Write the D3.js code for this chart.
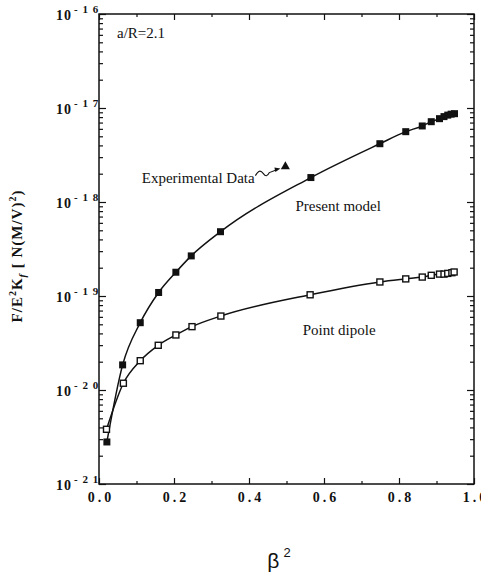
<!DOCTYPE html>
<html>
<head>
<meta charset="utf-8">
<script src="https://cdn.jsdelivr.net/npm/d3@7"></script>
<style>
  body { margin: 0; background: #fff; }
  svg { display: block; }
  text { fill: #111; }
  .serif { font-family: 'Liberation Serif', 'Times New Roman', 'DejaVu Serif', serif; }
  .sans { font-family: 'Liberation Sans', Arial, sans-serif; }
</style>
</head>
<body>
<div id="app"></div>
<script>
// beta^2 values and F/E^2K_f values
const presentX = [0.021, 0.063, 0.110, 0.159, 0.205, 0.246, 0.324, 0.565, 0.749, 0.818, 0.862, 0.886, 0.908, 0.920, 0.930, 0.939, 0.948];
const presentY = [2.8e-21, 1.85e-20, 5.2e-20, 1.09e-19, 1.79e-19, 2.67e-19, 4.83e-19, 1.82e-18, 4.17e-18, 5.6e-18, 6.44e-18, 7.15e-18, 7.7e-18, 8.1e-18, 8.4e-18, 8.6e-18, 8.7e-18];

const dipoleX = [0.020, 0.065, 0.110, 0.158, 0.205, 0.248, 0.325, 0.563, 0.749, 0.818, 0.862, 0.886, 0.908, 0.920, 0.930, 0.941, 0.947];
const dipoleY = [3.82e-21, 1.18e-20, 2.05e-20, 2.99e-20, 3.85e-20, 4.72e-20, 6.12e-20, 1.03e-19, 1.41e-19, 1.52e-19, 1.59e-19, 1.66e-19, 1.71e-19, 1.71e-19, 1.74e-19, 1.77e-19, 1.8e-19];

const experimentX = [0.497];
const experimentY = [2.38e-18];

const xTicks = [0, 0.2, 0.4, 0.6, 0.8, 1.0];
const yExponents = [-16, -17, -18, -19, -20, -21];

const width = 481, height = 574;
const margin = { left: 99, right: 7, top: 14, bottom: 90 };

const svg = d3.select('#app').append('svg')
  .attr('width', width)
  .attr('height', height);

const x = d3.scaleLinear().domain([0, 1]).range([margin.left, width - margin.right]);
const y = d3.scaleLog().domain([1e-21, 1e-16]).range([height - margin.bottom, margin.top]);

// frame
svg.append('rect')
  .attr('x', x(0)).attr('y', y(1e-16))
  .attr('width', x(1) - x(0)).attr('height', y(1e-21) - y(1e-16))
  .attr('fill', 'none').attr('stroke', '#111').attr('stroke-width', 1.5);

// minor and major ticks on log axes
const minorY = [];
for (let e = -21; e < -16; e++) {
  for (let m = 2; m <= 9; m++) minorY.push(m * Math.pow(10, e));
}
const majorY = yExponents.map(e => Math.pow(10, e));

function yAxis(gen, xpos, major) {
  const g = svg.append('g').attr('transform', `translate(${xpos},0)`);
  g.call(gen(y).tickValues(major ? majorY : minorY).tickSize(major ? 7 : 4).tickFormat(''));
  g.select('.domain').remove();
  g.selectAll('line').attr('stroke', '#111').attr('stroke-width', 1.2);
}
yAxis(d3.axisRight, x(0), true);
yAxis(d3.axisRight, x(0), false);
yAxis(d3.axisLeft, x(1), true);
yAxis(d3.axisLeft, x(1), false);

const minorX = d3.range(1, 10, 2).map(d => d / 10);
function xAxis(gen, ypos, major) {
  const g = svg.append('g').attr('transform', `translate(0,${ypos})`);
  g.call(gen(x).tickValues(major ? xTicks : minorX).tickSize(major ? 6 : 3).tickFormat(''));
  g.select('.domain').remove();
  g.selectAll('line').attr('stroke', '#111').attr('stroke-width', 1.2);
}
xAxis(d3.axisTop, y(1e-21), true);
xAxis(d3.axisTop, y(1e-21), false);
xAxis(d3.axisBottom, y(1e-16), true);
xAxis(d3.axisBottom, y(1e-16), false);

// y tick labels 10^-n
yExponents.forEach(e => {
  svg.append('text')
    .attr('class', 'serif')
    .attr('x', x(0) - 27)
    .attr('y', y(Math.pow(10, e)) + 6)
    .attr('text-anchor', 'end')
    .attr('font-size', 14)
    .attr('font-weight', 'bold')
    .attr('letter-spacing', 1)
    .text('10');
  svg.append('text')
    .attr('class', 'serif')
    .attr('x', x(0) - 25)
    .attr('y', y(Math.pow(10, e)) - 1)
    .attr('font-size', 11)
    .attr('font-weight', 'bold')
    .attr('letter-spacing', 1)
    .text('- ' + String(-e).split('').join(' '));
});

// x tick labels
xTicks.forEach(v => {
  svg.append('text')
    .attr('class', 'serif')
    .attr('x', x(v) + 2)
    .attr('y', y(1e-21) + 18)
    .attr('text-anchor', 'middle')
    .attr('font-size', 14)
    .attr('font-weight', 'bold')
    .attr('letter-spacing', 3)
    .text(v.toFixed(1));
});

// x axis title
const xt = svg.append('text')
  .attr('class', 'sans')
  .attr('x', x(0.48))
  .attr('y', 568)
  .attr('font-size', 21)
  .attr('text-anchor', 'middle');
xt.append('tspan').text('β');
xt.append('tspan').attr('dx', 4).attr('dy', -11).attr('font-size', 13).text('2');

// y axis title
const yt = svg.append('text')
  .attr('class', 'serif')
  .attr('transform', 'translate(22,256) rotate(-90)')
  .attr('text-anchor', 'middle')
  .attr('font-size', 15)
  .attr('font-weight', 'bold')
  .attr('letter-spacing', 1);
yt.append('tspan').text('F/E');
yt.append('tspan').attr('dy', -6).attr('font-size', 10).text('2');
yt.append('tspan').attr('dy', 6).text('K');
yt.append('tspan').attr('dy', 4).attr('font-size', 10).attr('font-style', 'italic').text('f');
yt.append('tspan').attr('dy', -4).text(' [ N(M/V)');
yt.append('tspan').attr('dy', -6).attr('font-size', 10).text('2');
yt.append('tspan').attr('dy', 6).text(')');

// curves
const presentData = presentX.map((d, i) => [d, presentY[i]]);
const dipoleData = dipoleX.map((d, i) => [d, dipoleY[i]]);

const line = d3.line()
  .x(d => x(d[0]))
  .y(d => y(d[1]))
  .curve(d3.curveMonotoneX);

[presentData, dipoleData].forEach(data => {
  svg.append('path')
    .attr('d', line(data))
    .attr('fill', 'none')
    .attr('stroke', '#111')
    .attr('stroke-width', 1.5);
});

const s = 7;
svg.selectAll('.present').data(presentData).enter().append('rect')
  .attr('x', d => x(d[0]) - s / 2)
  .attr('y', d => y(d[1]) - s / 2)
  .attr('width', s).attr('height', s)
  .attr('fill', '#111');

svg.selectAll('.dipole').data(dipoleData).enter().append('rect')
  .attr('x', d => x(d[0]) - s / 2 + 0.5)
  .attr('y', d => y(d[1]) - s / 2 + 0.5)
  .attr('width', s - 1).attr('height', s - 1)
  .attr('fill', '#fff')
  .attr('stroke', '#111')
  .attr('stroke-width', 1.4);

// experimental data triangle
const ex = x(experimentX[0]), ey = y(experimentY[0]);
svg.append('path')
  .attr('d', d3.symbol(d3.symbolTriangle, 36)())
  .attr('transform', `translate(${ex},${ey})`)
  .attr('fill', '#111');

// squiggly arrow from label to triangle
const sq = d3.path();
sq.moveTo(ex - 30, ey + 9);
sq.bezierCurveTo(ex - 27, ey + 4, ex - 25, ey + 3, ex - 22, ey + 7);
sq.bezierCurveTo(ex - 20, ey + 10, ex - 18, ey + 10, ex - 16, ey + 6);
sq.lineTo(ex - 8, ey + 3);
svg.append('path').attr('d', sq.toString())
  .attr('fill', 'none').attr('stroke', '#111').attr('stroke-width', 1.1);
svg.append('path')
  .attr('d', `M${ex - 5},${ey + 2} L${ex - 11},${ey + 1} L${ex - 10},${ey + 5.5} Z`)
  .attr('fill', '#111');

// annotations
const labels = [
  { t: 'a/R=2.1', x: 0.048, y: 5.56e-17 },
  { t: 'Experimental Data', x: 0.114, y: 1.6e-18 },
  { t: 'Present model', x: 0.524, y: 8.1e-19 },
  { t: 'Point dipole', x: 0.543, y: 3.85e-20 }
];
labels.forEach(l => {
  svg.append('text')
    .attr('class', 'serif')
    .attr('x', x(l.x))
    .attr('y', y(l.y))
    .attr('font-size', 15)
    .text(l.t);
});
</script>
</body>
</html>
